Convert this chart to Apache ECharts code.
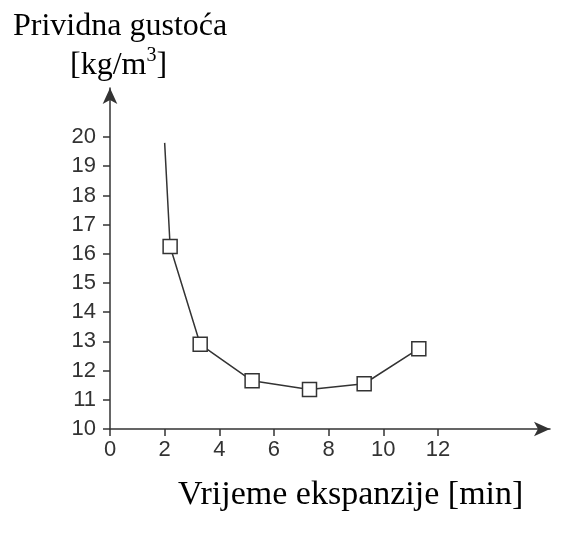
<!DOCTYPE html>
<html>
<head>
<meta charset="utf-8">
<script src="https://cdn.jsdelivr.net/npm/echarts@6/dist/echarts.min.js"></script>
<style>html,body{margin:0;padding:0;background:#fff}#c{width:568px;height:542px}</style>
</head>
<body>
<div id="c"></div>
<script>
var timeMin = [2.0, 2.2, 3.3, 5.2, 7.3, 9.3, 11.3];
var density = [19.8, 16.25, 12.9, 11.65, 11.35, 11.55, 12.75];
var xTicks = [0, 2, 4, 6, 8, 10, 12];
var yTicks = [10, 11, 12, 13, 14, 15, 16, 17, 18, 19, 20];
var yTitle1 = 'Prividna gustoća';
var yTitle2 = '{a|[kg/m}{s|3}{a|]}';
var xTitle = 'Vrijeme ekspanzije [min]';

var seriesData = timeMin.map(function (x, i) {
  var item = { value: [x, density[i]] };
  if (i === 0) item.symbol = 'none';
  return item;
});

var serif = 'Liberation Serif';
var chart = echarts.init(document.getElementById('c'));
var axisColor = '#333';
chart.setOption({
  backgroundColor: '#fff',
  animation: false,
  title: [
    { text: yTitle1, left: 8, top: 6, textStyle: { fontFamily: serif, fontSize: 32, fontWeight: 'normal', color: '#000' } },
    { text: yTitle2, left: 65, top: 41, textStyle: {
        fontWeight: 'normal',
        rich: {
          a: { fontFamily: serif, fontSize: 32, fontWeight: 'normal', color: '#000', lineHeight: 36, verticalAlign: 'bottom' },
          s: { fontFamily: serif, fontSize: 20, fontWeight: 'normal', color: '#000', lineHeight: 36, verticalAlign: 'top' }
        } } },
    { text: xTitle, left: 173, top: 473, textStyle: { fontFamily: serif, fontSize: 34, fontWeight: 'normal', color: '#000' } }
  ],
  grid: { left: 110, right: 18, top: 88, bottom: 113 },
  xAxis: {
    type: 'value', min: 0, max: 16.1,
    splitLine: { show: false },
    axisLine: { lineStyle: { color: axisColor, width: 1.5 }, symbol: ['none', 'arrow'], symbolSize: [11, 16] },
    axisTick: { show: true, length: 7, lineStyle: { color: axisColor, width: 1.5 }, customValues: xTicks },
    axisLabel: { customValues: xTicks, margin: 10, fontFamily: 'Liberation Sans', fontSize: 22, color: '#333' }
  },
  yAxis: {
    type: 'value', min: 10, max: 21.68,
    splitLine: { show: false },
    axisLine: { show: true, lineStyle: { color: axisColor, width: 1.5 }, symbol: ['none', 'arrow'], symbolSize: [11, 16] },
    axisTick: { show: true, length: 7, lineStyle: { color: axisColor, width: 1.5 }, customValues: yTicks },
    axisLabel: { customValues: yTicks, margin: 14, fontFamily: 'Liberation Sans', fontSize: 22, color: '#333' }
  },
  series: [{
    type: 'line',
    data: seriesData,
    symbol: 'rect',
    symbolSize: 14,
    showAllSymbol: true,
    lineStyle: { color: '#333', width: 1.5 },
    itemStyle: { color: '#fff', borderColor: '#333', borderWidth: 1.5 }
  }]
});
</script>
</body>
</html>
